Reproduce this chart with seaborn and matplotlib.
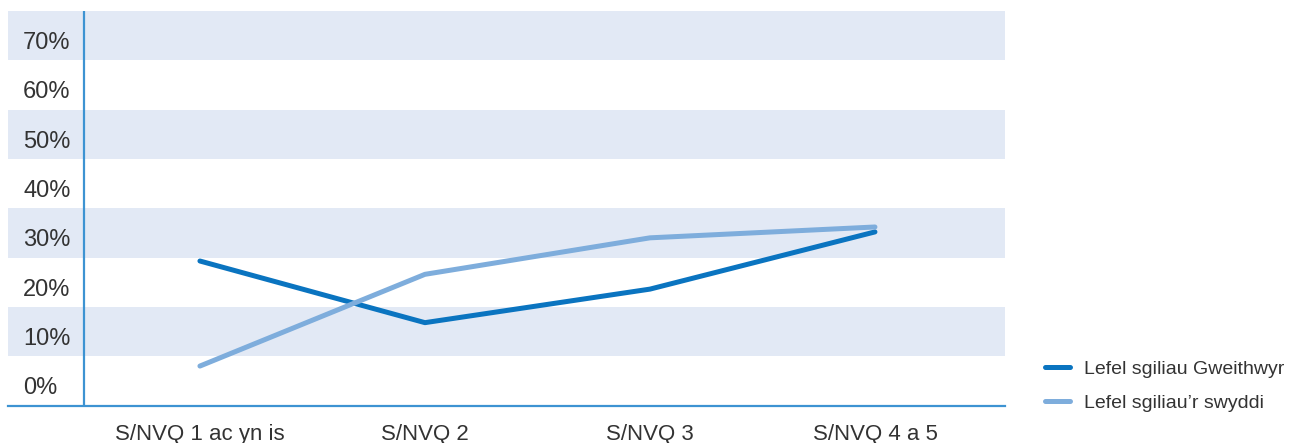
import pandas as pd
import seaborn as sns
import matplotlib.pyplot as plt
from matplotlib.transforms import blended_transform_factory

# Values
categories = ['S/NVQ 1 ac yn is', 'S/NVQ 2', 'S/NVQ 3', 'S/NVQ 4 a 5']
gweithwyr = [29.3, 16.8, 23.6, 35.2]
swyddi = [8.0, 26.6, 34.0, 36.2]
series_names = ['Lefel sgiliau Gweithwyr', 'Lefel sgiliau\u2019r swyddi']
y_ticks = [0, 10, 20, 30, 40, 50, 60, 70]

df = pd.DataFrame({
    'level': categories * 2,
    'share': gweithwyr + swyddi,
    'series': [series_names[0]] * 4 + [series_names[1]] * 4,
})

sns.set_theme(style='white')
plt.rcParams['font.family'] = ['Liberation Sans', 'DejaVu Sans']

dark = '#0a74c0'
light = '#7eaddc'
band = '#e2e9f5'
axis_col = '#3d93d2'
text_col = '#333333'

fig = plt.figure(figsize=(12.93, 4.43), dpi=100)
ax = fig.add_axes([8 / 1293, 1 - 405.5 / 443, 997 / 1293, 394.5 / 443])

# alternating bands
for lo in [10, 30, 50, 70]:
    ax.axhspan(lo, lo + 10, color=band, lw=0, zorder=0)

sns.lineplot(data=df, x='level', y='share', hue='series', sort=False,
             palette=[dark, light], hue_order=series_names,
             linewidth=3.6, ax=ax, legend=True, zorder=3)
# light line on top where the two meet at the end
ax.lines[1].set_zorder(4)

ax.set_ylim(0, 80)
ax.set_xlim(-0.853, 3.578)
ax.set_xlabel('')
ax.set_ylabel('')
ax.set_yticks([])
ax.set_xticks(range(len(categories)))
ax.set_xticklabels(categories, fontsize=16, color=text_col)
ax.tick_params(axis='x', length=0, pad=13)

for side in ['top', 'right', 'left']:
    ax.spines[side].set_visible(False)
ax.spines['bottom'].set_color(axis_col)
ax.spines['bottom'].set_linewidth(1.6)

# vertical axis line inside the banded area
vx = (84 - 8) / 997
ax.plot([vx, vx], [0, 1], transform=ax.transAxes, color=axis_col, lw=1.6, zorder=5)

# y labels sit inside the rows above each value
tr = blended_transform_factory(ax.transAxes, ax.transData)
for v in y_ticks:
    ax.text(15 / 997, v + 3.5, f'{v}%', transform=tr, ha='left', va='center',
            fontsize=17, color=text_col)

handles, labels = ax.get_legend_handles_labels()
ax.legend_.remove()
fig.legend(handles, labels, loc='upper left', bbox_to_anchor=(1027 / 1293, 1 - 343 / 443),
           frameon=False, fontsize=14, handlelength=1.33, labelcolor=text_col,
           labelspacing=0.85, handletextpad=0.7)

fig.savefig('out.png', dpi=100)
